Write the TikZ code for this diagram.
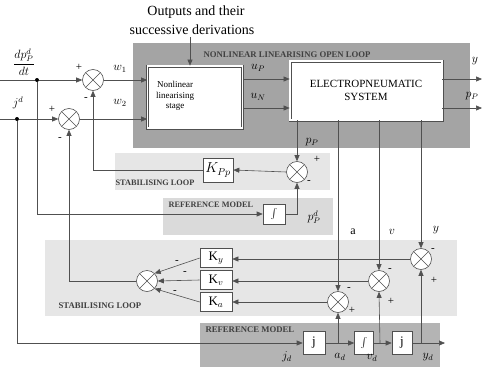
\documentclass[tikz,border=0pt]{standalone}
\usepackage{fontspec}
\setmainfont{Liberation Serif}
\usetikzlibrary{arrows.meta}
\definecolor{darkbg}{HTML}{A4A4A4}
\definecolor{lightbg}{HTML}{E6E6E6}
\definecolor{refbg}{HTML}{DADADA}
\definecolor{lowrefbg}{HTML}{B4B4B4}
\definecolor{lncol}{HTML}{505050}
\begin{document}
\begin{tikzpicture}[x=1pt,y=-1pt,
  every node/.style={font=\fontsize{12}{13}\selectfont},
  sumnode/.style={circle,draw=lncol,line width=0.6pt,fill=white,minimum size=21pt,inner sep=0pt,
    path picture={\draw[lncol,line width=0.6pt] (path picture bounding box.north west)--(path picture bounding box.south east)
      (path picture bounding box.north east)--(path picture bounding box.south west);}},
  blk/.style={draw=lncol,line width=0.6pt,fill=white,inner sep=1pt,align=center},
  dblk/.style={draw=lncol,double=white,double distance=1.6pt,line width=0.7pt,fill=white,align=center},
  arr/.style={draw=lncol,line width=0.6pt,-{Triangle[length=6pt,width=5pt]}},
  lnk/.style={draw=lncol,line width=0.6pt},
  dotn/.style={circle,fill=black,inner sep=0pt,minimum size=4pt},
  capt/.style={font=\fontsize{8.7}{9}\selectfont\bfseries,text=black!75},
  sig/.style={font=\fontsize{11}{12}\selectfont},
  lab/.style={font=\fontsize{12}{13}\selectfont},
  btext/.style={align=center,inner sep=0pt}
]
\useasboundingbox (0,0) rectangle (482,367);
% backgrounds
\fill[darkbg] (133,43) rectangle (470,148);
\fill[lightbg] (115,153) rectangle (330,190);
\fill[refbg] (163,198) rectangle (333,235);
\fill[lightbg] (45,240) rectangle (457,316);
\fill[lowrefbg] (200,323) rectangle (440,367);
% captions
\node[capt,anchor=west] (capnl) at (200,55) {NONLINEAR LINEARISING OPEN LOOP};
\node[capt,anchor=west,font=\fontsize{8.3}{9}\selectfont\bfseries] (capst1) at (112,183) {STABILISING LOOP};
\node[capt,anchor=west,font=\fontsize{8.3}{9}\selectfont\bfseries] (caprf1) at (165,205) {REFERENCE MODEL};
\node[capt,anchor=west] (capst2) at (55,306) {STABILISING LOOP};
\node[capt,anchor=west] (caprf2) at (202,330) {REFERENCE MODEL};
\node[lab,font=\fontsize{14}{15}\selectfont] (out1) at (196,12) {Outputs and their};
\node[lab,font=\fontsize{14}{15}\selectfont] (out2) at (192,30) {successive derivations};
% main blocks
\node[dblk,minimum width=95pt,minimum height=62pt] (nl) at (195,97) {};
\node[btext,font=\fontsize{9}{10.5}\selectfont] (nltext) at (175,96) {Nonlinear\\linearising\\stage};
\node[dblk,minimum width=152pt,minimum height=59pt,font=\fontsize{11}{13}\selectfont] (ep) at (366,90.5) {ELECTROPNEUMATIC\\SYSTEM};
% sums
\node[sumnode] (s1) at (93,80) {};
\node[sumnode] (s2) at (69,119) {};
\node[sumnode] (sp) at (297,172) {};
\node[sumnode] (ss) at (147,281) {};
\node[sumnode] (sy) at (421,259) {};
\node[sumnode] (sv) at (379,281) {};
\node[sumnode] (sa) at (338,302) {};
% gain and integrator blocks
\node[blk,minimum width=30pt,minimum height=24pt,font=\fontsize{14}{15}\selectfont] (kpp) at (218,170) {$K_{Pp}$};
\node[blk,minimum width=22pt,minimum height=20pt,font=\fontsize{14}{15}\selectfont] (int1) at (274,214) {$\int$};
\node[blk,minimum width=32pt,minimum height=19pt,font=\fontsize{13}{14}\selectfont] (ky) at (216,258) {K$_y$};
\node[blk,minimum width=32pt,minimum height=19pt,font=\fontsize{13}{14}\selectfont] (kv) at (216,280) {K$_v$};
\node[blk,minimum width=32pt,minimum height=19pt,font=\fontsize{13}{14}\selectfont] (ka) at (216,302) {K$_a$};
\node[blk,minimum width=22pt,minimum height=23pt,font=\fontsize{13}{14}\selectfont] (jb) at (314,343) {j};
\node[blk,minimum width=19pt,minimum height=23pt,font=\fontsize{14}{15}\selectfont] (ib1) at (364,343) {$\int$};
\node[blk,minimum width=20pt,minimum height=23pt,font=\fontsize{13}{14}\selectfont] (ib2) at (402,343) {j};
% coordinates
\coordinate (in1) at (0,80);
\coordinate (in2) at (0,119);
\node[dotn] (d1) at (37,80) {};
\node[dotn] (d2) at (17,119) {};
\coordinate (oy) at (482,79);
\coordinate (op) at (482,108);
\coordinate (od) at (445,343);
\coordinate (arrtop) at (190,37);
\coordinate (ja) at (338,343);
\coordinate (jv) at (380,343);
\coordinate (jy) at (421,343);
% connections
\draw[arr] (arrtop) -- (nl.north -| arrtop);
\draw[lnk] (in1) -- (d1);
\draw[arr] (d1) -- (s1.west);
\draw[lnk] (in2) -- (d2);
\draw[arr] (d2) -- (s2.west);
\draw[arr] (d1) |- (int1.west);
\draw[arr] (d2) |- (jb.west);
\draw[arr] (s1.east) -- (nl.west |- s1.east);
\draw[arr] (s2.east) -- (nl.west |- s2.east);
\draw[arr] (nl.east |- 0,79) -- (ep.west |- 0,79);
\draw[arr] (nl.east |- 0,108) -- (ep.west |- 0,108);
\draw[arr] (ep.east |- oy) -- (oy);
\draw[arr] (ep.east |- op) -- (op);
\draw[arr] (ep.south -| sp) -- (sp.north);
\draw[arr] (sp.west) -- (kpp.east);
\draw[arr] (kpp.west) -| (s1.south);
\draw[arr] (int1.east) -| (sp.south);
\draw[arr] (ep.south -| sa) -- (sa.north);
\draw[arr] (ep.south -| sv) -- (sv.north);
\draw[arr] (ep.south -| sy) -- (sy.north);
\draw[arr] (sy.west) -- (ky.east |- sy.west);
\draw[arr] (sv.west) -- (kv.east |- sv.west);
\draw[arr] (sa.west) -- (ka.east);
\draw[arr] (ky.west) -- (ss.north east);
\draw[arr] (kv.west) -- (ss.east);
\draw[arr] (ka.west) -- (ss.south east);
\draw[arr] (ss.west) -| (s2.south);
\draw[arr] (jb.east) -- (ib1.west);
\draw[arr] (ib1.east) -- (ib2.west);
\draw[arr] (ib2.east) -- (od);
\draw[arr] (ja) -- (sa.south);
\draw[arr] (jv) -- (sv.south);
\draw[arr] (jy) -- (sy.south);
% labels
\node[lab,inner sep=0pt] (ldp) at (24,62) {$\displaystyle\frac{dp_P^d}{dt}$};
\node[lab] (ljd) at (18,103) {$j^d$};
\node[lab] (lw1) at (120,69) {$w_1$};
\node[lab] (lw2) at (120,103) {$w_2$};
\node[lab] (lup) at (258,68) {$u_P$};
\node[lab] (lun) at (258,97) {$u_N$};
\node[lab] (ly) at (475,61) {$y$};
\node[lab] (lpp) at (472,96) {$p_P$};
\node[lab] (lpp2) at (312,142) {$p_P$};
\node[lab] (lppd) at (314,217) {$p_P^d$};
\node[lab] (la) at (353,232) {a};
\node[lab] (lv) at (392,232) {$v$};
\node[lab] (lyy) at (436,230) {$y$};
\node[lab] (ljd2) at (287,357) {$j_d$};
\node[lab] (lad) at (340,357) {$a_d$};
\node[lab] (lvd) at (372,358) {$v_d$};
\node[lab] (lyd) at (428,357) {$y_d$};
% signs
\node[sig] (g1) at (79,67) {+};
\node[sig] (g2) at (86,99) {-};
\node[sig] (g3) at (52,109) {+};
\node[sig] (g4) at (60,139) {-};
\node[sig] (g5) at (317,159) {+};
\node[sig] (g6) at (309,182) {-};
\node[sig] (g7) at (177,262) {-};
\node[sig] (g8) at (185,273) {-};
\node[sig] (g9) at (175,292) {-};
\node[sig] (g10) at (433,250) {-};
\node[sig] (g11) at (434,280) {+};
\node[sig] (g12) at (390,270) {-};
\node[sig] (g13) at (391,301) {+};
\node[sig] (g14) at (349,289) {-};
\node[sig] (g15) at (352,310) {+};
\end{tikzpicture}
\end{document}
